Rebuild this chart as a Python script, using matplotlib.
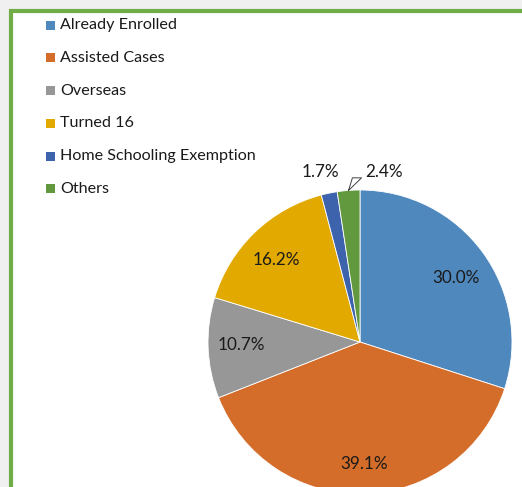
import matplotlib.pyplot as plt
import numpy as np
from matplotlib.patches import Rectangle

categories = ["Already Enrolled", "Assisted Cases", "Overseas", "Turned 16",
              "Home Schooling Exemption", "Others"]
shares = [30.0, 39.1, 10.7, 16.2, 1.7, 2.4]
colors = ["#4f88bc", "#d46d2a", "#979797", "#e2a900", "#3e63ad", "#63993e"]

plt.rcParams['font.family'] = ['Lato', 'DejaVu Sans']

W, H = 522, 487
fig = plt.figure(figsize=(W / 100, H / 100), dpi=100, facecolor="#f0f0f0")

# white chart area with green frame (cropped on right and bottom)
fig.patches.append(Rectangle((10.5 / W, -0.1), 1.2, 1 - 10.5 / H + 0.1,
                             transform=fig.transFigure, facecolor="white",
                             edgecolor="#70ad47", linewidth=3, zorder=-1))

cx, cy, r = 360, 342, 152
ax = fig.add_axes([(cx - r) / W, (H - cy - r) / H, 2 * r / W, 2 * r / H])
ax.set_zorder(2)

wedges, _ = ax.pie(shares, colors=colors, startangle=90, counterclock=False,
                   radius=1, wedgeprops=dict(edgecolor="white", linewidth=0.6))
ax.set_xlim(-1, 1)
ax.set_ylim(-1, 1)
ax.axis("off")

# label anchor points (fraction of radius), Excel "best fit" placement
label_pos = [(0.63, 0.42), (0.03, -0.80), (-0.78, -0.02), (-0.55, 0.54),
             (-0.26, 1.12), (0.16, 1.12)]
for (lx, ly), v in zip(label_pos, shares):
    ax.text(lx, ly, f"{v:.1f}%", ha="center", va="center", fontsize=12.3,
            color="#1a1a1a", clip_on=False)

# leader line for the "Others" label
w = wedges[5]
ang = np.deg2rad((w.theta1 + w.theta2) / 2)
px, py = np.cos(ang), np.sin(ang)
ax.plot([px, -0.05, 0.01, px], [py, 1.08, 1.08, py], color="#404040",
        lw=0.7, clip_on=False)

# legend
for i, (name, c) in enumerate(zip(categories, colors)):
    y = 1 - (25 + 32.8 * i) / H
    fig.patches.append(Rectangle((46 / W, y - 4.5 / H), 9 / W, 9 / H,
                                 transform=fig.transFigure, facecolor=c,
                                 edgecolor="none"))
    fig.text(60 / W, y, name, ha="left", va="center", fontsize=11.6,
             color="#1a1a1a")

fig.savefig("out.png", dpi=100, facecolor=fig.get_facecolor())
